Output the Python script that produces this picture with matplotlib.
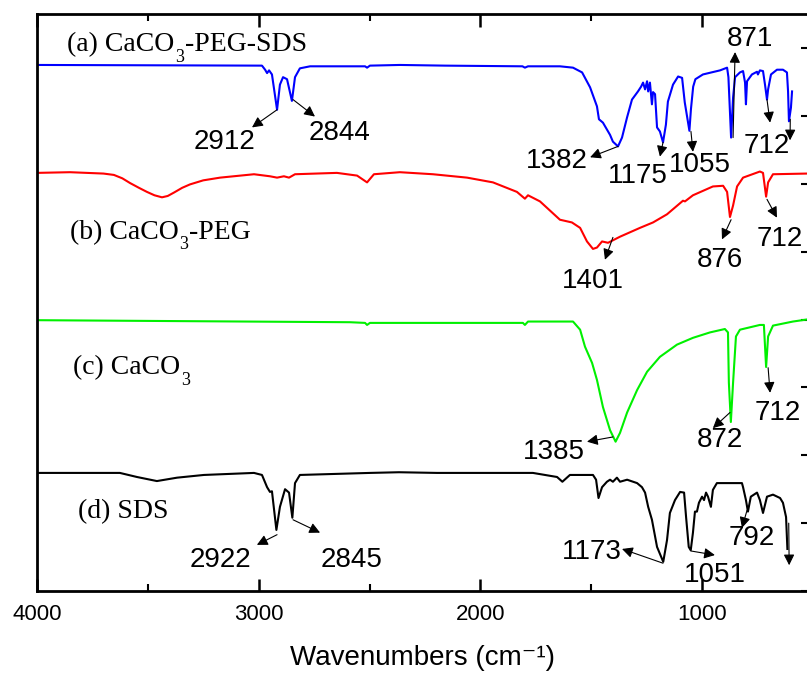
import matplotlib.pyplot as plt
from matplotlib.ticker import MultipleLocator

# stacked FTIR spectra, wavenumber (cm-1) vs offset transmittance (a.u.)
wn_a = [4000, 2985, 2971, 2962, 2953, 2940, 2917, 2904, 2890, 2872, 2850, 2836, 2814, 2768,
        2520, 2511, 2498, 2363, 2160, 1810, 1799, 1785, 1641, 1582, 1541, 1505, 1474, 1465,
        1447, 1415, 1402, 1379, 1361, 1338, 1316, 1289, 1275, 1266, 1257, 1248, 1243, 1235,
        1226, 1221, 1212, 1203, 1190, 1176, 1163, 1154, 1131, 1108, 1090, 1078, 1057, 1050,
        1040, 1030, 996, 919, 887, 881, 869, 860, 851, 829, 815, 806, 802, 797, 775, 752,
        748, 739, 725, 716, 707, 702, 689, 662, 635, 617, 612, 608, 599, 594]
tr_a = [7.75, 7.74, 7.68, 7.63, 7.67, 7.61, 7.09, 7.46, 7.57, 7.54, 7.22, 7.57, 7.70, 7.73,
        7.73, 7.71, 7.74, 7.75, 7.74, 7.73, 7.71, 7.73, 7.73, 7.71, 7.64, 7.42, 7.14, 6.95,
        6.90, 6.72, 6.62, 6.55, 6.68, 6.98, 7.24, 7.36, 7.43, 7.49, 7.39, 7.51, 7.36, 7.49,
        7.17, 7.35, 7.32, 6.83, 6.77, 6.61, 6.87, 7.21, 7.46, 7.58, 7.56, 7.20, 6.78, 7.10,
        7.43, 7.54, 7.61, 7.67, 7.71, 7.57, 6.68, 7.27, 7.57, 7.64, 7.66, 7.49, 7.17, 7.51,
        7.61, 7.65, 7.61, 7.67, 7.66, 7.46, 7.24, 7.39, 7.61, 7.68, 7.68, 7.64, 7.36, 6.92,
        7.12, 7.36]

wn_b = [4000, 3851, 3700, 3653, 3615, 3580, 3540, 3504, 3470, 3436, 3410, 3382, 3345, 3310,
        3250, 3174, 3021, 2949, 2917, 2886, 2863, 2836, 2647, 2556, 2511, 2480, 2363, 2214,
        2060, 1943, 1835, 1799, 1785, 1731, 1641, 1587, 1550, 1519, 1492, 1474, 1451, 1424,
        1370, 1280, 1221, 1158, 1086, 1077, 1041, 951, 905, 887, 874, 860, 842, 815, 739,
        725, 711, 702, 680, 527]
tr_b = [6.16, 6.17, 6.15, 6.13, 6.08, 6.01, 5.94, 5.88, 5.83, 5.80, 5.82, 5.87, 5.94, 5.99,
        6.05, 6.09, 6.14, 6.11, 6.09, 6.11, 6.09, 6.14, 6.16, 6.12, 6.02, 6.14, 6.17, 6.14,
        6.09, 6.02, 5.88, 5.78, 5.83, 5.74, 5.47, 5.43, 5.35, 5.15, 5.04, 5.06, 5.15, 5.13,
        5.22, 5.35, 5.43, 5.55, 5.75, 5.74, 5.83, 5.96, 5.97, 5.88, 5.51, 5.68, 5.96, 6.09,
        6.18, 6.16, 5.81, 6.02, 6.14, 6.15]

wn_c = [4000, 2588, 2520, 2511, 2498, 1808, 1799, 1785, 1582, 1550, 1528, 1496, 1474, 1447,
        1415, 1390, 1370, 1338, 1293, 1248, 1190, 1113, 1041, 964, 897, 883, 879, 870, 860,
        847, 829, 739, 721, 711, 702, 680, 590, 527]
tr_c = [3.99, 3.96, 3.95, 3.92, 3.95, 3.95, 3.92, 3.97, 3.97, 3.85, 3.60, 3.36, 3.11, 2.71,
        2.37, 2.20, 2.33, 2.63, 2.96, 3.23, 3.45, 3.63, 3.73, 3.81, 3.86, 3.81, 3.07, 2.49,
        3.07, 3.75, 3.85, 3.92, 3.92, 3.30, 3.75, 3.91, 3.97, 4.00]

wn_d = [4000, 3626, 3549, 3459, 3368, 3247, 3021, 2985, 2962, 2949, 2940, 2920, 2904, 2881,
        2863, 2848, 2836, 2814, 2498, 2367, 2196, 1763, 1654, 1630, 1596, 1492, 1478, 1467,
        1451, 1429, 1415, 1402, 1384, 1370, 1338, 1293, 1271, 1257, 1243, 1226, 1203, 1175,
        1158, 1145, 1122, 1099, 1081, 1072, 1060, 1051, 1041, 1032, 1023, 1014, 1000, 991,
        982, 973, 960, 951, 933, 820, 815, 802, 793, 780, 752, 739, 725, 707, 680, 648, 635,
        621, 615]
tr_d = [1.74, 1.74, 1.68, 1.62, 1.67, 1.71, 1.74, 1.71, 1.53, 1.46, 1.47, 0.90, 1.24, 1.50,
        1.45, 1.08, 1.59, 1.71, 1.74, 1.75, 1.74, 1.74, 1.68, 1.61, 1.71, 1.71, 1.64, 1.37,
        1.53, 1.61, 1.64, 1.61, 1.67, 1.61, 1.64, 1.59, 1.53, 1.45, 1.24, 1.05, 0.65, 0.43,
        0.75, 1.15, 1.34, 1.46, 1.45, 1.09, 0.65, 0.60, 0.86, 1.17, 1.17, 1.30, 1.39, 1.34,
        1.45, 1.39, 1.24, 1.49, 1.59, 1.59, 1.53, 1.34, 1.17, 1.39, 1.45, 1.34, 1.15, 1.39,
        1.42, 1.37, 1.30, 1.09, 0.62]

# sample names split around the CO3 subscript: (before, subscript, after)
names = [('(a) CaCO', '3', '-PEG-SDS'), ('(b) CaCO', '3', '-PEG'), ('(c) CaCO', '3', ''),
         ('(d) SDS', '', '')]
name_pos = [(3865, 7.95), (3851, 5.19), (3838, 3.19), (3815, 1.08)]
colors = ['#0000ff', '#ff0000', '#00f000', '#000000']

# peak labels: text, peak point, arrow head, text centre
peaks = [
    ('2912', (2917, 7.09), (3030, 6.83), (3152, 6.61)),
    ('2844', (2845, 7.24), (2746, 6.99), (2633, 6.75)),
    ('1382', (1379, 6.55), (1505, 6.39), (1654, 6.33)),
    ('1175', (1176, 6.61), (1190, 6.40), (1289, 6.11)),
    ('1055', (1050, 6.77), (1041, 6.47), (1009, 6.28)),
    ('871', (860, 6.68), (851, 7.94), (784, 8.13)),
    ('712', (707, 7.24), (693, 6.90), (707, 6.55)),
    ('', (602, 6.95), (603, 6.64), None),
    ('1401', (1402, 5.21), (1438, 4.88), (1492, 4.56)),
    ('876', (869, 5.47), (910, 5.18), (919, 4.88)),
    ('712', (707, 5.77), (662, 5.50), (648, 5.18)),
    ('1385', (1402, 2.27), (1519, 2.20), (1668, 2.05)),
    ('872', (874, 2.63), (951, 2.40), (919, 2.23)),
    ('712', (702, 3.29), (693, 2.92), (657, 2.63)),
    ('2922', (2917, 0.83), (3008, 0.68), (3174, 0.46)),
    ('2845', (2845, 1.05), (2723, 0.86), (2579, 0.46)),
    ('1173', (1176, 0.41), (1361, 0.62), (1496, 0.58)),
    ('1051', (1050, 0.59), (942, 0.53), (942, 0.24)),
    ('792', (797, 1.19), (820, 0.93), (775, 0.78)),
    ('', (609, 1.00), (607, 0.38), None),
]

fig = plt.figure(figsize=(8.07, 6.75), dpi=100)
ax = fig.add_axes([0.0458, 0.1244, 0.956, 0.8548])

for wn, tr, c in zip([wn_a, wn_b, wn_c, wn_d], [tr_a, tr_b, tr_c, tr_d], colors):
    ax.plot(wn, tr, color=c, lw=1.5)

serif = 'Liberation Serif'
for (x, y), (pre, sub, post) in zip(name_pos, names):
    t1 = ax.text(x, y, pre, fontsize=20, family=serif, va='baseline', ha='left')
    if sub:
        t2 = ax.annotate(sub, xy=(1, 0), xycoords=t1, xytext=(0.5, -6),
                         textcoords='offset points', fontsize=13, family=serif,
                         va='bottom', ha='left')
        if post:
            ax.annotate(post, xy=(1, 0), xycoords=(t2, t1), xytext=(0.5, 0),
                        textcoords='offset points', fontsize=20, family=serif,
                        va='bottom', ha='left')

for label, tail, head, txt in peaks:
    ax.annotate('', xy=head, xytext=tail,
                arrowprops=dict(arrowstyle='-|>', color='k', lw=0.8, mutation_scale=16,
                                shrinkA=0, shrinkB=0))
    if txt is not None:
        ax.text(txt[0], txt[1], label, fontsize=20, family='Liberation Sans',
                ha='center', va='center')

ax.set_xlim(4000, 520)
ax.set_ylim(0, 8.5)
ax.xaxis.set_major_locator(MultipleLocator(1000))
ax.xaxis.set_minor_locator(MultipleLocator(500))
ax.yaxis.set_major_locator(MultipleLocator(1))
ax.tick_params(axis='x', which='major', direction='in', top=True, length=9, width=1.8,
               labelsize=16, pad=9)
ax.tick_params(axis='x', which='minor', direction='in', top=True, length=5, width=1.5)
ax.tick_params(axis='y', which='major', direction='in', left=False, right=True, labelleft=False,
               length=5, width=1.5)
for lab in ax.get_xticklabels():
    lab.set_family('Liberation Sans')
for s in ax.spines.values():
    s.set_linewidth(2)

ax.set_xlabel('Wavenumbers (cm\u207b\u00b9)', fontsize=20, family=['Liberation Sans', 'DejaVu Sans'],
              labelpad=15)

fig.savefig('out.png', dpi=100)
